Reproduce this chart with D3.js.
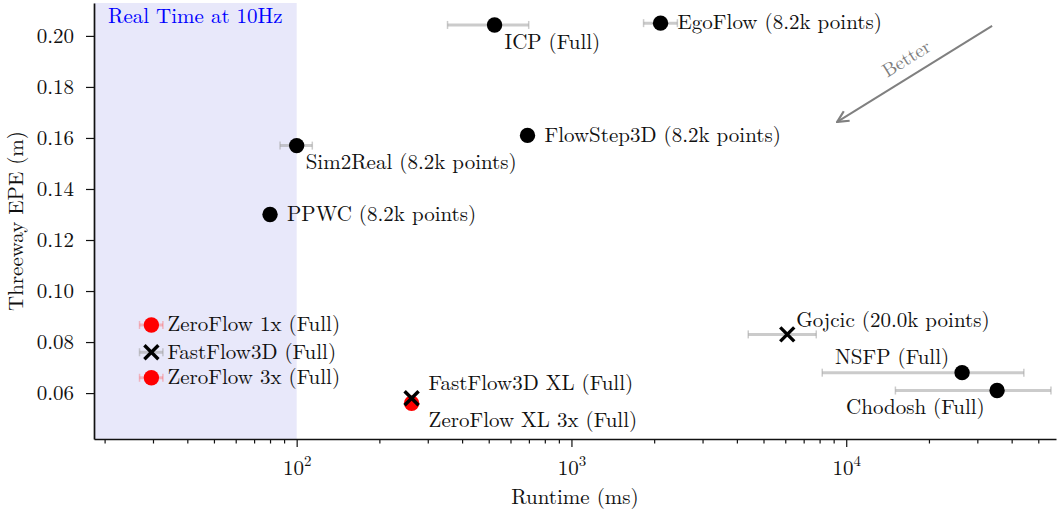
<!DOCTYPE html>
<html>
<head>
<meta charset="utf-8">
<script src="https://cdn.jsdelivr.net/npm/d3@7"></script>
<style>
  body { margin: 0; background: #fff; }
</style>
</head>
<body>
<div id="chart"></div>
<script>
// Data
const methods = ["ICP (Full)", "EgoFlow (8.2k points)", "FlowStep3D (8.2k points)", "Sim2Real (8.2k points)",
  "PPWC (8.2k points)", "ZeroFlow 1x (Full)", "FastFlow3D (Full)", "ZeroFlow 3x (Full)",
  "FastFlow3D XL (Full)", "ZeroFlow XL 3x (Full)", "Gojcic (20.0k points)", "NSFP (Full)", "Chodosh (Full)"];
const runtimeMs = [525, 2110, 692, 100, 80, 29.6, 29.6, 29.6, 262, 262, 6100, 26400, 35400];
const runtimeLow = [354, 1830, null, 87, null, 26.8, 26.8, 26.8, null, null, 4400, 8180, 15100];
const runtimeHigh = [699, 2430, null, 114, null, 32.6, 32.6, 32.6, null, null, 7780, 44300, 55600];
const threewayEPE = [0.2043, 0.2050, 0.1610, 0.1570, 0.1300, 0.0867, 0.0760, 0.0660, 0.0580, 0.0560, 0.0830, 0.0680, 0.0610];
const markerKind = ["dot", "dot", "dot", "dot", "dot", "dot", "cross", "dot", "cross", "dot", "cross", "dot", "dot"];
const markerColor = ["black", "black", "black", "black", "black", "red", "black", "red", "black", "red", "black", "black", "black"];
const yTicks = [0.06, 0.08, 0.10, 0.12, 0.14, 0.16, 0.18, 0.20];
const xMajorTicks = [100, 1000, 10000];
const realTimeLimit = 100;
const betterFrom = [33960, 0.2039];
const betterTo = [9270, 0.1663];

// Label placement (pixel offsets from each point)
const labelOffsets = [[10, 18], [17, 0], [17, 0], [9, 17], [17, 0], [16, 0], [16, 0], [16, 0],
  [17, -14], [17, 17], [9, -14], [-127, -15], [-151, 17]];

const FONT = '"Latin Modern Roman", "Liberation Serif", serif';
const FS = 21;
const WIDTH = 1058, HEIGHT = 512;
const M = { left: 94, right: 2, top: 3, bottom: 73 };

const svg = d3.select("#chart").append("svg")
  .attr("width", WIDTH).attr("height", HEIGHT);

const x = d3.scaleLog().domain([18.3, 58000]).range([M.left, WIDTH - M.right]);
const y = d3.scaleLinear().domain([0.0420, 0.2129]).range([HEIGHT - M.bottom, M.top]);

// Real time shaded band
svg.append("rect")
  .attr("x", x.range()[0]).attr("y", M.top)
  .attr("width", x(realTimeLimit) - x.range()[0])
  .attr("height", y.range()[0] - M.top)
  .attr("fill", "#e8e8fa");

svg.append("text")
  .attr("x", (x.range()[0] + x(realTimeLimit)) / 2).attr("y", 23)
  .attr("text-anchor", "middle")
  .attr("font-size", FS)
  .attr("fill", "blue")
  .text("Real Time at 10Hz");

// Axes
const yAxis = d3.axisLeft(y).tickValues(yTicks).tickFormat(d3.format(".2f"))
  .tickSize(8).tickPadding(12).tickSizeOuter(0);
const yg = svg.append("g").attr("transform", `translate(${M.left},0)`).call(yAxis);

const minorTicks = [];
for (let e = 1; e <= 4; e++) {
  for (let m = 2; m <= 9; m++) {
    const v = m * Math.pow(10, e);
    if (v >= x.domain()[0] && v <= x.domain()[1]) minorTicks.push(v);
  }
}
const xMinor = d3.axisBottom(x).tickValues(minorTicks).tickFormat("").tickSize(4.5).tickSizeOuter(0);
const xMajor = d3.axisBottom(x).tickValues(xMajorTicks).tickFormat(() => "").tickSize(8).tickSizeOuter(0);
const xg2 = svg.append("g").attr("transform", `translate(0,${y.range()[0]})`).call(xMinor);
const xg = svg.append("g").attr("transform", `translate(0,${y.range()[0]})`).call(xMajor);
xg2.select(".domain").remove();

xg.selectAll(".tick text").each(function (d) {
  const t = d3.select(this);
  t.attr("dy", null).attr("y", 36);
  t.append("tspan").text("10");
  t.append("tspan").attr("dy", -9).attr("font-size", 15).text(Math.round(Math.log10(d)));
});

[yg, xg, xg2].forEach(g => {
  g.attr("font-family", null);
  g.selectAll(".tick text").attr("font-size", FS).attr("fill", "#111");
  g.selectAll(".tick line").attr("stroke", "#111").attr("stroke-width", 1.2);
  g.select(".domain").attr("stroke", "#111").attr("stroke-width", 1.7);
});

svg.append("text")
  .attr("x", (x.range()[0] + x.range()[1]) / 2).attr("y", 504)
  .attr("text-anchor", "middle").attr("font-size", FS).attr("fill", "#111")
  .text("Runtime (ms)");

svg.append("text")
  .attr("transform", `translate(23,${(y.range()[0] + y.range()[1]) / 2}) rotate(-90)`)
  .attr("text-anchor", "middle").attr("font-size", FS).attr("fill", "#111")
  .text("Threeway EPE (m)");

// Error bars
const idx = d3.range(methods.length);
const eb = svg.append("g").selectAll("g")
  .data(idx.filter(i => runtimeLow[i] !== null))
  .join("g")
  .attr("stroke", i => markerColor[i] === "red" ? "rgba(255,80,80,0.35)" : "rgba(160,160,160,0.55)")
  .attr("stroke-width", 3);
eb.append("line")
  .attr("x1", i => x(runtimeLow[i])).attr("x2", i => x(runtimeHigh[i]))
  .attr("y1", i => y(threewayEPE[i])).attr("y2", i => y(threewayEPE[i]));
eb.append("line")
  .attr("x1", i => x(runtimeLow[i])).attr("x2", i => x(runtimeLow[i]))
  .attr("y1", i => y(threewayEPE[i]) - 4).attr("y2", i => y(threewayEPE[i]) + 4)
  .attr("stroke-width", 1.5);
eb.append("line")
  .attr("x1", i => x(runtimeHigh[i])).attr("x2", i => x(runtimeHigh[i]))
  .attr("y1", i => y(threewayEPE[i]) - 4).attr("y2", i => y(threewayEPE[i]) + 4)
  .attr("stroke-width", 1.5);

// Markers: dots first, crosses on top
const marks = svg.append("g");
marks.selectAll("circle")
  .data(idx.filter(i => markerKind[i] === "dot"))
  .join("circle")
  .attr("cx", i => x(runtimeMs[i])).attr("cy", i => y(threewayEPE[i]))
  .attr("r", 7.7)
  .attr("fill", i => markerColor[i]);

const crosses = marks.selectAll("g.cross")
  .data(idx.filter(i => markerKind[i] === "cross"))
  .join("g")
  .attr("class", "cross")
  .attr("transform", i => `translate(${x(runtimeMs[i])},${y(threewayEPE[i])})`)
  .attr("stroke", "black").attr("stroke-width", 3.4);
crosses.append("line").attr("x1", -7).attr("y1", -7).attr("x2", 7).attr("y2", 7);
crosses.append("line").attr("x1", -7).attr("y1", 7).attr("x2", 7).attr("y2", -7);

// Labels
svg.append("g").selectAll("text")
  .data(idx)
  .join("text")
  .attr("x", i => x(runtimeMs[i]) + labelOffsets[i][0])
  .attr("y", i => y(threewayEPE[i]) + labelOffsets[i][1])
  .attr("dy", "0.3em")
  .attr("font-size", FS)
  .attr("fill", "#111")
  .text(i => methods[i]);

// "Better" arrow
svg.append("defs").append("marker")
  .attr("id", "arrow").attr("viewBox", "0 0 10 10")
  .attr("refX", 9).attr("refY", 5)
  .attr("markerWidth", 7).attr("markerHeight", 7)
  .attr("orient", "auto")
  .append("path").attr("d", "M1,1 L9,5 L1,9").attr("fill", "none")
  .attr("stroke", "grey").attr("stroke-width", 1.6);

const ax1 = x(betterFrom[0]), ay1 = y(betterFrom[1]);
const ax2 = x(betterTo[0]), ay2 = y(betterTo[1]);
svg.append("line")
  .attr("x1", ax1).attr("y1", ay1).attr("x2", ax2).attr("y2", ay2)
  .attr("stroke", "grey").attr("stroke-width", 2)
  .attr("marker-end", "url(#arrow)");

const ang = Math.atan2(ay1 - ay2, ax1 - ax2) * 180 / Math.PI;
svg.append("text")
  .attr("transform", `translate(${(ax1 + ax2) / 2 - 5},${(ay1 + ay2) / 2 - 10}) rotate(${ang})`)
  .attr("text-anchor", "middle")
  .attr("font-size", 19)
  .attr("fill", "grey")
  .text("Better");

svg.selectAll("text").style("font-family", FONT);
</script>
</body>
</html>
